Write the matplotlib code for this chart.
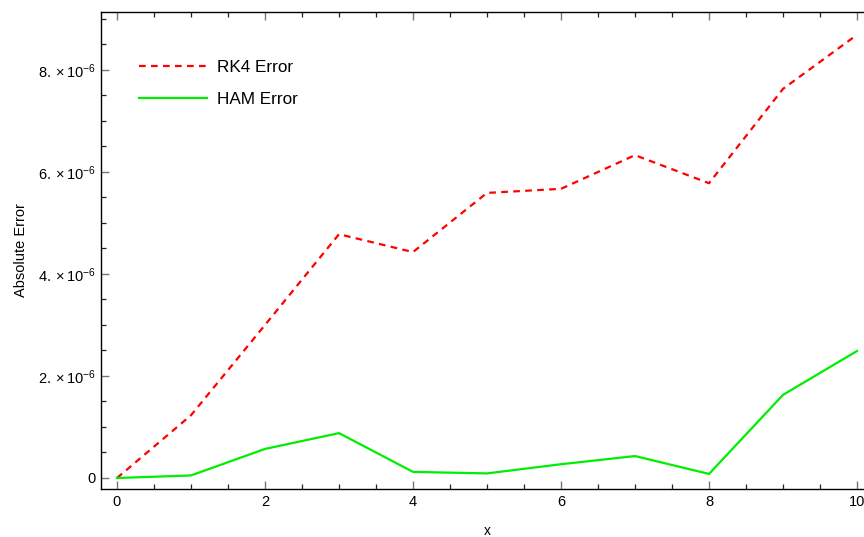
import numpy as np
import matplotlib
matplotlib.use("Agg")
import matplotlib.pyplot as plt
from matplotlib.ticker import MultipleLocator, FuncFormatter

# ── data ──────────────────────────────────────────────────────────────────────
X_VALUES = [0, 1, 2, 3, 4, 5, 6, 7, 8, 9, 10]
RK4_ERR  = [0.0, 1.23e-6, 3.00e-6, 4.78e-6, 4.43e-6, 5.59e-6,
            5.67e-6, 6.33e-6, 5.78e-6, 7.63e-6, 8.69e-6]
HAM_ERR  = [0.0, 0.05e-6, 0.57e-6, 0.88e-6, 0.12e-6, 0.09e-6,
            0.27e-6, 0.43e-6, 0.08e-6, 1.63e-6, 2.49e-6]

plt.rcParams["font.family"] = ["Liberation Sans", "DejaVu Sans"]
plt.rcParams["mathtext.fontset"] = "custom"
plt.rcParams["mathtext.rm"] = "Liberation Sans"
plt.rcParams["mathtext.it"] = "Liberation Sans"


def sci_fmt(v, pos):
    if abs(v) < 1e-12:
        return "0"
    m = v / 1e-6
    return r"$%d.\times10^{-6}$" % round(m)


fig = plt.figure(figsize=(8.64, 5.37), dpi=100)
ax = fig.add_axes([101 / 864, 48 / 537, (873 - 101) / 864, (489 - 12) / 537])

ax.plot(X_VALUES, RK4_ERR, color="#ff0000", lw=1.6, dashes=(3.0, 2.4),
        label="RK4 Error")
ax.plot(X_VALUES, HAM_ERR, color="#00ee00", lw=1.6, label="HAM Error")

ax.set_xlim(-0.216, 10.216)
ax.set_ylim(-0.2157e-6, 9.137e-6)

ax.xaxis.set_major_locator(MultipleLocator(2))
ax.xaxis.set_minor_locator(MultipleLocator(0.5))
ax.yaxis.set_major_locator(MultipleLocator(2e-6))
ax.yaxis.set_minor_locator(MultipleLocator(0.5e-6))
ax.yaxis.set_major_formatter(FuncFormatter(sci_fmt))

ax.tick_params(which="both", direction="in", top=True, right=True,
               labelsize=10.5)
ax.tick_params(which="major", length=6, width=1.0, color="#777777", pad=4)
ax.tick_params(which="minor", length=3.8, width=0.9, color="#222222")

for sp in ax.spines.values():
    sp.set_linewidth(1.0)

ax.set_xlabel("x", fontsize=10, labelpad=11)
ax.set_ylabel("Absolute Error", fontsize=10.5, labelpad=7)

ax.legend(frameon=False, loc="upper left", bbox_to_anchor=(0.029, 0.931),
          fontsize=12.3, handlelength=4.0, handletextpad=0.6,
          labelspacing=0.97)

fig.savefig("out.png", dpi=100)
